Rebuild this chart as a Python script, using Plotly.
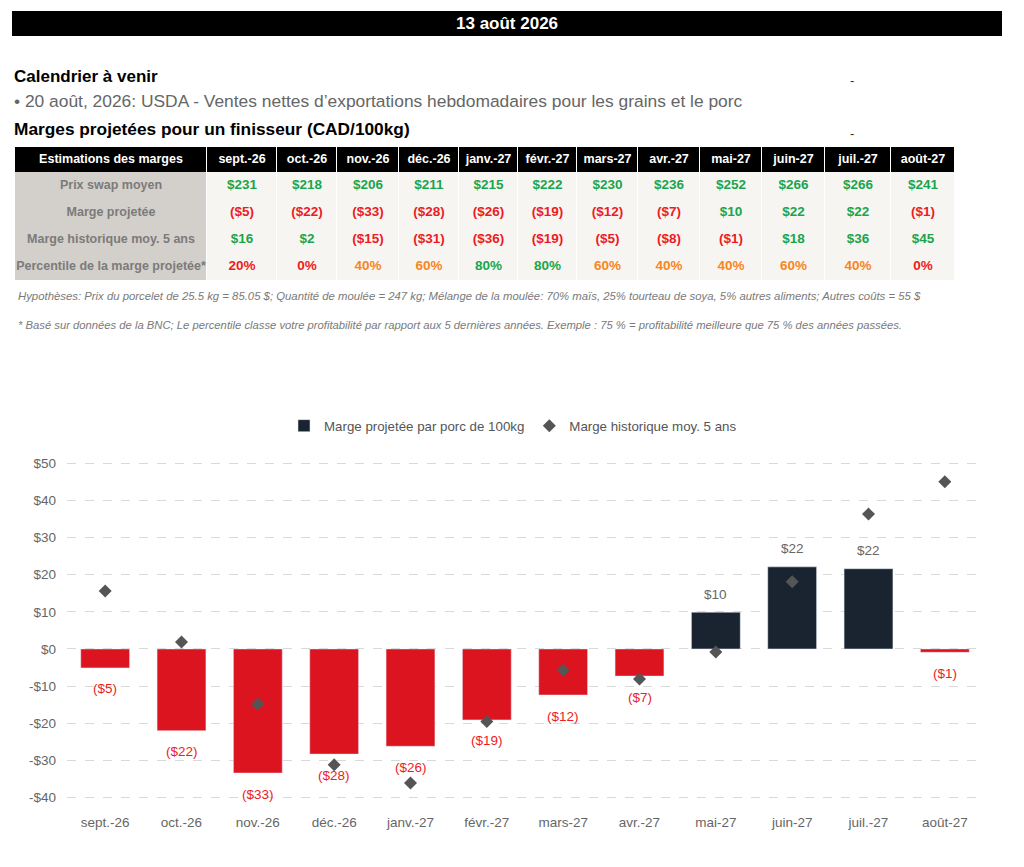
import plotly.graph_objects as go

W, H = 1024, 867

# Donnees
mois = ["sept.-26", "oct.-26", "nov.-26", "déc.-26", "janv.-27", "févr.-27",
        "mars-27", "avr.-27", "mai-27", "juin-27", "juil.-27", "août-27"]
prix_swap = [231, 218, 206, 211, 215, 222, 230, 236, 252, 266, 266, 241]
marge_proj = [-5, -22, -33, -28, -26, -19, -12, -7, 10, 22, 22, -1]
marge_hist = [16, 2, -15, -31, -36, -19, -5, -8, -1, 18, 36, 45]
percentile = [20, 0, 40, 60, 80, 80, 60, 40, 40, 60, 40, 0]
# valeurs (non arrondies)
marge_graph = [-5.1, -22.0, -33.4, -28.3, -26.2, -19.1, -12.4, -7.3, 9.9, 22.1, 21.6, -0.9]
hist_graph = [15.6, 1.9, -14.8, -31.2, -36.1, -19.5, -5.7, -8.1, -0.8, 18.1, 36.3, 45.0]
lignes = ["Prix swap moyen", "Marge projetée", "Marge historique moy. 5 ans",
          "Percentile de la marge projetée*"]
y_ticks = [-40, -30, -20, -10, 0, 10, 20, 30, 40, 50]
y_ticktext = ["-$40", "-$30", "-$20", "-$10", "$0", "$10", "$20", "$30", "$40", "$50"]

# Mise en page du tableau (pixels)
COL_W = [192, 70, 60, 62, 60, 59, 59, 61, 62, 62, 63, 66, 64]
ROW_H = [25, 27, 27, 27, 27]

# Couleurs
VERT = "#1aa54b"
ROUGE = "#ec1c24"
ORANGE = "#f7861f"
MARINE = "#1a2431"
BARRE_ROUGE = "#dc141f"
GRIS_TXT = "#666666"
ARIAL = "Liberation Sans, Arial, sans-serif"


def px(x):
    return x / W


def py(y):
    return 1 - y / H


def dollars(v):
    return f"${v}" if v >= 0 else f"(${-v})"


def couleur_dollars(v):
    return VERT if v >= 0 else ROUGE


def couleur_pct(p):
    if p <= 20:
        return ROUGE
    elif p <= 60:
        return ORANGE
    return VERT


def cumul(vals):
    out = [0]
    for v in vals:
        out.append(out[-1] + v)
    return out


fig = go.Figure()

#------------------------------------
# Tableau des marges (axes x2 / y2 en pixels du tableau)
#------------------------------------
x_edges = cumul(COL_W)
y_edges = cumul(ROW_H)
x_mid = [(a + b) / 2 for a, b in zip(x_edges[:-1], x_edges[1:])]
y_mid = [(a + b) / 2 for a, b in zip(y_edges[:-1], y_edges[1:])]

# 0 = entete noire, 1 = colonne grise, 2 = cellule claire
z_fond = [[0] * len(COL_W)] + [[1] + [2] * len(mois) for _ in lignes]
fig.add_trace(go.Heatmap(
    x=x_edges, y=y_edges, z=z_fond, zmin=0, zmax=2,
    colorscale=[[0, "black"], [0.33, "black"], [0.34, "#d3cfca"], [0.66, "#d3cfca"],
                [0.67, "#f7f5f2"], [1, "#f7f5f2"]],
    showscale=False, xgap=1, ygap=0, hoverinfo="skip",
    xaxis="x2", yaxis="y2",
))

# entete
fig.add_trace(go.Scatter(
    x=x_mid, y=[y_mid[0]] * len(x_mid), mode="text",
    text=["<b>Estimations des marges</b>"] + [f"<b>{m}</b>" for m in mois],
    textfont=dict(family=ARIAL, size=12.5, color="white"),
    showlegend=False, hoverinfo="skip", xaxis="x2", yaxis="y2",
))
# etiquettes de lignes
fig.add_trace(go.Scatter(
    x=[x_mid[0]] * len(lignes), y=y_mid[1:], mode="text",
    text=[f"<b>{l}</b>" for l in lignes],
    textfont=dict(family=ARIAL, size=12.5, color="#7b7b7b"),
    showlegend=False, hoverinfo="skip", xaxis="x2", yaxis="y2",
))
# valeurs
cell_x, cell_y, cell_txt, cell_col = [], [], [], []
for i in range(len(mois)):
    textes = [dollars(prix_swap[i]), dollars(marge_proj[i]),
              dollars(marge_hist[i]), f"{percentile[i]}%"]
    couleurs = [couleur_dollars(prix_swap[i]), couleur_dollars(marge_proj[i]),
                couleur_dollars(marge_hist[i]), couleur_pct(percentile[i])]
    for r in range(len(lignes)):
        cell_x.append(x_mid[i + 1])
        cell_y.append(y_mid[r + 1])
        cell_txt.append(f"<b>{textes[r]}</b>")
        cell_col.append(couleurs[r])
fig.add_trace(go.Scatter(
    x=cell_x, y=cell_y, mode="text", text=cell_txt,
    textfont=dict(family=ARIAL, size=13.5, color=cell_col),
    showlegend=False, hoverinfo="skip", xaxis="x2", yaxis="y2",
))

#------------------------------------
# Graphique des marges
#------------------------------------
fig.add_trace(go.Bar(
    x=mois, y=[v if v >= 0 else None for v in marge_graph],
    marker=dict(color=MARINE), name="Marge projetée par porc de 100kg",
    xaxis="x", yaxis="y",
))
fig.add_trace(go.Bar(
    x=mois, y=[v if v < 0 else None for v in marge_graph],
    marker=dict(color=BARRE_ROUGE), showlegend=False,
    xaxis="x", yaxis="y",
))
fig.add_trace(go.Scatter(
    x=mois, y=hist_graph, mode="markers",
    marker=dict(symbol="diamond", size=10, color="#555555"),
    name="Marge historique moy. 5 ans",
    xaxis="x", yaxis="y",
))

annotations = []
for m, v, vt in zip(mois, marge_graph, marge_proj):
    annotations.append(dict(
        x=m, y=v, xref="x", yref="y", text=dollars(vt), showarrow=False,
        yshift=18 if v >= 0 else -21,
        font=dict(family=ARIAL, size=13.5, color="#666666" if v >= 0 else ROUGE),
    ))

# Textes d'en-tete
entetes = [
    dict(x=px(507), y=py(23.5), text="<b>13 août 2026</b>", xanchor="center",
         font=dict(family=ARIAL, size=17, color="white")),
    dict(x=px(12), y=py(76), text="<b>Calendrier à venir</b>", xanchor="left",
         font=dict(family=ARIAL, size=17, color="black")),
    dict(x=px(12), y=py(101),
         text="• 20 août, 2026: USDA - Ventes nettes d’exportations hebdomadaires pour les grains et le porc",
         xanchor="left", font=dict(family=ARIAL, size=17.4, color="#666666")),
    dict(x=px(12), y=py(129), text="<b>Marges projetées pour un finisseur (CAD/100kg)</b>",
         xanchor="left", font=dict(family=ARIAL, size=17.3, color="black")),
    dict(x=px(852), y=py(81), text="-", xanchor="center",
         font=dict(family=ARIAL, size=13, color="#333333")),
    dict(x=px(852), y=py(133), text="-", xanchor="center",
         font=dict(family=ARIAL, size=13, color="#333333")),
    dict(x=px(16), y=py(296),
         text="<i>Hypothèses: Prix du porcelet de 25.5 kg = 85.05 $; Quantité de moulée = 247 kg; "
              "Mélange de la moulée: 70% maïs, 25% tourteau de soya, 5% autres aliments; Autres coûts = 55 $</i>",
         xanchor="left", font=dict(family=ARIAL, size=11.35, color="#7a7a7a")),
    dict(x=px(16), y=py(325),
         text="<i>* Basé sur données de la BNC; Le percentile classe votre profitabilité par rapport aux 5 dernières "
              "années. Exemple : 75 % = profitabilité meilleure que 75 % des années passées.</i>",
         xanchor="left", font=dict(family=ARIAL, size=11.25, color="#7a7a7a")),
]
for a in entetes:
    a.update(xref="paper", yref="paper", yanchor="middle", showarrow=False)
annotations += entetes

fig.update_layout(
    width=W, height=H,
    margin=dict(l=0, r=0, t=0, b=0),
    paper_bgcolor="white",
    plot_bgcolor="white",
    barmode="relative",
    bargap=0.36,
    showlegend=True,
    legend=dict(
        orientation="h", x=px(513), xanchor="center", y=py(426), yanchor="middle",
        font=dict(family=ARIAL, size=13.3, color="#555555"),
        bgcolor="rgba(0,0,0,0)",
    ),
    xaxis=dict(
        domain=[px(67), px(983)],
        type="category", categoryorder="array", categoryarray=mois,
        range=[-0.5, len(mois) - 0.5],
        showgrid=False, showline=False, zeroline=False,
        ticklabelstandoff=4,
        tickfont=dict(family=ARIAL, size=13.5, color=GRIS_TXT),
    ),
    yaxis=dict(
        domain=[py(808.7), py(455.8)],
        range=[-43, 52],
        tickvals=y_ticks, ticktext=y_ticktext,
        showgrid=True, gridcolor="#d9d9d9", griddash="dash", gridwidth=1,
        zeroline=False, showline=False,
        ticklabelstandoff=10,
        tickfont=dict(family=ARIAL, size=13.5, color=GRIS_TXT),
    ),
    xaxis2=dict(
        domain=[px(15), px(955)], range=[0, x_edges[-1]], anchor="y2",
        visible=False, fixedrange=True,
    ),
    yaxis2=dict(
        domain=[py(147 + y_edges[-1]), py(147)], range=[y_edges[-1], 0], anchor="x2",
        visible=False, fixedrange=True,
    ),
    shapes=[dict(type="rect", xref="paper", yref="paper",
                 x0=px(12), x1=px(1002), y0=py(36), y1=py(11),
                 fillcolor="black", line=dict(width=0), layer="below")],
    annotations=annotations,
)

fig.write_html("out.html", config={"displayModeBar": False},
               post_script="document.body.style.margin='0px';")
